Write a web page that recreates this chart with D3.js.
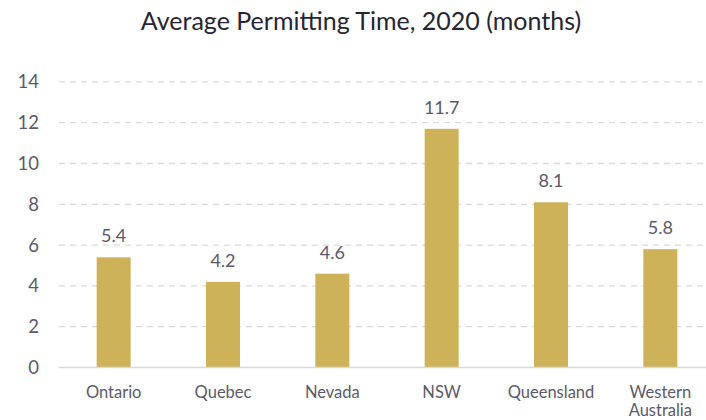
<!DOCTYPE html>
<html>
<head>
<meta charset="utf-8">
<script src="https://cdn.jsdelivr.net/npm/d3@7"></script>
<style>
  html, body { margin: 0; padding: 0; background: #fff; }
  svg { display: block; font-family: Lato, "Open Sans", sans-serif; }
</style>
</head>
<body>
<svg id="chart" width="706" height="420"></svg>
<script>
const categories = ["Ontario", "Quebec", "Nevada", "NSW", "Queensland", "Western Australia"];
const months = [5.4, 4.2, 4.6, 11.7, 8.1, 5.8];
const yTicks = [0, 2, 4, 6, 8, 10, 12, 14];
const title = "Average Permitting Time, 2020 (months)";

const svg = d3.select("#chart");
const W = 706, H = 420;
const textColor = "#5a5a6a";

const x = d3.scaleBand()
  .domain(categories)
  .range([59, 715])
  .paddingInner(0.689)
  .paddingOuter(0.3445);

const y = d3.scaleLinear()
  .domain([0, 14])
  .range([367.5, 81.9]);

// title
svg.append("text")
  .attr("x", 361)
  .attr("y", 30)
  .attr("text-anchor", "middle")
  .attr("font-size", 25)
  .attr("fill", "#262633")
  .text(title);

// dashed gridlines
svg.append("g")
  .selectAll("line")
  .data(yTicks.filter(d => d > 0))
  .join("line")
  .attr("x1", 59).attr("x2", W)
  .attr("y1", d => y(d)).attr("y2", d => y(d))
  .attr("stroke", "#d9d9d9")
  .attr("stroke-width", 1.3)
  .attr("stroke-dasharray", "6,5");

// y axis labels
const yAxis = d3.axisLeft(y).tickValues(yTicks).tickSize(0).tickPadding(0);
const gy = svg.append("g").attr("transform", "translate(39,0)").call(yAxis);
gy.select(".domain").remove();
gy.selectAll("text")
  .attr("font-size", 18.5)
  .attr("font-family", "Lato, 'Open Sans', sans-serif")
  .attr("fill", textColor);

// bars
svg.append("g")
  .selectAll("rect")
  .data(months)
  .join("rect")
  .attr("x", (d, i) => x(categories[i]))
  .attr("width", x.bandwidth())
  .attr("y", d => y(d))
  .attr("height", d => y(0) - y(d))
  .attr("fill", "#cdb25a");

// value labels
svg.append("g")
  .selectAll("text")
  .data(months)
  .join("text")
  .attr("x", (d, i) => x(categories[i]) + x.bandwidth() / 2)
  .attr("y", d => y(d) - 15)
  .attr("text-anchor", "middle")
  .attr("font-size", 18)
  .attr("fill", textColor)
  .text(d => d.toFixed(1));

// x axis baseline
svg.append("line")
  .attr("x1", 59).attr("x2", W)
  .attr("y1", y(0)).attr("y2", y(0))
  .attr("stroke", "#d9d9d9")
  .attr("stroke-width", 1.5);

// category labels, wrapped on spaces when too wide
const xAxis = d3.axisBottom(x).tickSize(0).tickPadding(0);
const gx = svg.append("g").attr("transform", `translate(0,${y(0)})`).call(xAxis);
gx.select(".domain").remove();
gx.selectAll("text")
  .attr("font-size", 16.5)
  .attr("font-family", "Lato, 'Open Sans', sans-serif")
  .attr("fill", textColor)
  .attr("dy", null)
  .attr("y", 30)
  .each(function(d) {
    const t = d3.select(this);
    const words = d.split(" ");
    if (words.length > 1) {
      t.text(null);
      words.forEach((w, i) => {
        t.append("tspan").attr("x", 0).attr("y", 30 + i * 18.5).text(w);
      });
    }
  });
</script>
</body>
</html>
